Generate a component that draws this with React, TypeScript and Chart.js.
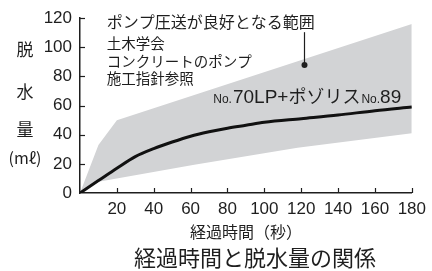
import React, { useEffect, useRef } from "react";
import { Chart, registerables } from "chart.js";

Chart.register(...registerables);

// ---- data ----
const lineTimes = [0, 10, 20, 30, 40, 50, 60, 70, 80, 90, 100, 120, 140, 160, 180];
const lineValues = [0, 8.5, 17, 25, 30.5, 35, 39, 42, 44.5, 46.5, 48.5, 51, 53.5, 56.5, 59];
const upperTimes = [0, 10, 20, 180];
const upperValues = [0, 33, 50, 116];
const lowerTimes = [0, 10, 62, 118, 180];
const lowerValues = [0, 7.7, 19.4, 31, 41];
const xTickValues = [20, 40, 60, 80, 100, 120, 140, 160, 180];
const yTickValues = [20, 40, 60, 80, 100, 120];
const yTitleChars = ["脱", "水", "量", "(mℓ)"];
const rangeLabel = "ポンプ圧送が良好となる範囲";
const sourceLines = ["土木学会", "コンクリートのポンプ", "施工指針参照"];
const seriesLabelParts = ["No.", "70LP+ポゾリス", "No.", "89"];
const chartTitle = "経過時間と脱水量の関係";
const xTitle = "経過時間（秒）";

const CJK = '"Noto Sans CJK JP", "Noto Sans", sans-serif';
const NUM = '"Liberation Sans", Arial, sans-serif';
const INK = "#1e1e1e";

const toPts = (xs: number[], ys: number[]) => xs.map((x, i) => ({ x, y: ys[i] }));

const decorPlugin = {
  id: "decor",
  afterDraw(chart: any) {
    const { ctx, scales } = chart;
    const xs = scales.x;
    const ys = scales.y;
    const left = xs.left;
    const bottom = ys.bottom;
    ctx.save();
    // inward tick marks
    ctx.strokeStyle = INK;
    ctx.lineWidth = 1.2;
    yTickValues.forEach((v) => {
      const p = Math.round(ys.getPixelForValue(v)) + 0.5;
      ctx.beginPath();
      ctx.moveTo(left, p);
      ctx.lineTo(left + 5, p);
      ctx.stroke();
    });
    xTickValues.forEach((v) => {
      const p = Math.round(xs.getPixelForValue(v)) + 0.5;
      ctx.beginPath();
      ctx.moveTo(p, bottom);
      ctx.lineTo(p, bottom - 5);
      ctx.stroke();
    });

    ctx.fillStyle = INK;
    ctx.textBaseline = "middle";
    // y axis title, vertical characters
    ctx.textAlign = "center";
    const yTitleY = [50, 92, 130, 158];
    yTitleChars.forEach((c, i) => {
      ctx.font = i === 3 ? `16px ${CJK}` : `17px ${CJK}`;
      ctx.fillText(c, 25, yTitleY[i]);
    });

    // range annotation
    ctx.textAlign = "left";
    ctx.font = `16px ${CJK}`;
    ctx.fillText(rangeLabel, xs.getPixelForValue(14.5), ys.getPixelForValue(117.3));
    ctx.font = `14.5px ${CJK}`;
    const srcY = [102.7, 90.5, 78.7];
    sourceLines.forEach((t, i) => {
      ctx.fillText(t, xs.getPixelForValue(14.5), ys.getPixelForValue(srcY[i]));
    });

    // leader line with dot
    const lx = Math.round(xs.getPixelForValue(121.6)) + 0.5;
    const ly1 = ys.getPixelForValue(110.4);
    const ly2 = ys.getPixelForValue(87.8);
    ctx.lineWidth = 1.2;
    ctx.beginPath();
    ctx.moveTo(lx, ly1);
    ctx.lineTo(lx, ly2);
    ctx.stroke();
    ctx.beginPath();
    ctx.arc(lx, ly2, 3, 0, Math.PI * 2);
    ctx.fill();

    // series label
    ctx.textBaseline = "alphabetic";
    let sx = xs.getPixelForValue(72.3);
    const sy = ys.getPixelForValue(62.1);
    const fonts = [`12px ${NUM}`, `19px ${NUM}`, `12px ${NUM}`, `19px ${NUM}`];
    seriesLabelParts.forEach((t, i) => {
      if (i === 1) {
        const latin = "70LP+";
        const kana = t.slice(latin.length);
        ctx.font = `19px ${NUM}`;
        ctx.fillText(latin, sx, sy);
        sx += ctx.measureText(latin).width;
        ctx.font = `18px ${CJK}`;
        ctx.fillText(kana, sx, sy);
        sx += ctx.measureText(kana).width + 1;
      } else {
        ctx.font = fonts[i];
        ctx.fillText(t, sx, sy);
        sx += ctx.measureText(t).width + (i === 0 ? 1 : 0);
      }
    });

    // main title
    ctx.textBaseline = "middle";
    ctx.textAlign = "center";
    ctx.font = `22px ${CJK}`;
    ctx.fillText(chartTitle, 255, 258);
    ctx.restore();
  },
};

export default function App() {
  const ref = useRef<HTMLCanvasElement | null>(null);
  useEffect(() => {
    if (!ref.current) return;
    const chart = new Chart(ref.current, {
      type: "line",
      data: {
        datasets: [
          {
            label: "No.70LP+ポゾリスNo.89",
            data: toPts(lineTimes, lineValues),
            borderColor: "#111111",
            borderWidth: 3,
            pointRadius: 0,
            fill: false,
            cubicInterpolationMode: "monotone",
            order: 0,
          },
          {
            label: "上限",
            data: toPts(upperTimes, upperValues),
            borderWidth: 0,
            borderColor: "rgba(0,0,0,0)",
            pointRadius: 0,
            backgroundColor: "#d2d3d5",
            fill: "+1",
            tension: 0,
            order: 1,
          },
          {
            label: "下限",
            data: toPts(lowerTimes, lowerValues),
            borderWidth: 0,
            borderColor: "rgba(0,0,0,0)",
            pointRadius: 0,
            fill: false,
            tension: 0,
            order: 2,
          },
        ],
      },
      options: {
        responsive: false,
        animation: false,
        events: [],
        layout: { padding: { top: 18, right: 16, bottom: 0, left: 0 } },
        plugins: {
          legend: { display: false },
          title: { display: false },
          tooltip: { enabled: false },
        },
        scales: {
          x: {
            type: "linear",
            min: 0,
            max: 180,
            afterFit: (s: any) => {
              s.height = 78;
            },
            ticks: {
              stepSize: 20,
              padding: 6,
              color: INK,
              font: { family: NUM, size: 17 },
              maxRotation: 0,
              autoSkip: false,
              callback: (v: any) => (v === 0 ? "" : String(v)),
            },
            grid: { display: false, drawTicks: false },
            border: { display: true, color: INK, width: 1.5 },
            title: {
              display: true,
              text: xTitle,
              color: INK,
              font: { family: CJK, size: 16 },
              padding: { top: 0, bottom: 29 },
            },
          },
          y: {
            type: "linear",
            min: 0,
            max: 120,
            afterFit: (s: any) => {
              s.width = 80;
            },
            ticks: {
              stepSize: 20,
              padding: 8,
              color: INK,
              font: { family: NUM, size: 17 },
            },
            grid: { display: false, drawTicks: false },
            border: { display: true, color: INK, width: 1.5 },
          },
        },
      },
      plugins: [decorPlugin],
    });
    return () => chart.destroy();
  }, []);
  return (
    <div style={{ position: "absolute", left: 0, top: 0, width: 432, height: 271, background: "#fff" }}>
      <canvas ref={ref} width={432} height={271} style={{ display: "block" }} />
    </div>
  );
}
